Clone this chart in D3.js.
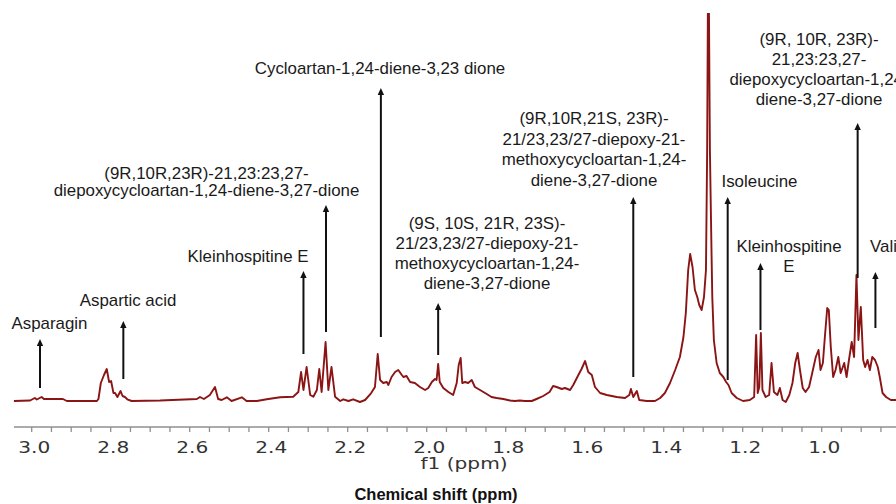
<!DOCTYPE html>
<html>
<head>
<meta charset="utf-8">
<script src="https://cdn.jsdelivr.net/npm/d3@7/dist/d3.min.js"></script>
<style>
  html, body { margin: 0; padding: 0; background: #fff; }
  svg { display: block; }
</style>
</head>
<body>
<svg id="chart" width="896" height="504"></svg>
<script>
// ---------------- DATA ----------------
// Chemical shift (ppm) and intensity (arbitrary units)
const shiftPpm = [
  3.045, 3.004, 2.997, 2.992, 2.987, 2.975, 2.969, 2.954, 2.921, 2.911, 2.835, 2.831, 2.825, 2.817, 2.810,
  2.804, 2.799, 2.793, 2.789, 2.783, 2.775, 2.770, 2.764, 2.758, 2.747, 2.675, 2.582, 2.574, 2.564, 2.549,
  2.536, 2.528, 2.519, 2.506, 2.494, 2.468, 2.456, 2.430, 2.405, 2.371, 2.338, 2.325, 2.318, 2.312, 2.304,
  2.295, 2.287, 2.278, 2.272, 2.266, 2.256, 2.249, 2.241, 2.232, 2.219, 2.211, 2.198, 2.186, 2.169, 2.156,
  2.141, 2.131, 2.124, 2.118, 2.110, 2.101, 2.097, 2.089, 2.080, 2.072, 2.063, 2.059, 2.051, 2.042, 2.030,
  2.017, 2.004, 1.996, 1.987, 1.979, 1.975, 1.971, 1.967, 1.958, 1.945, 1.933, 1.924, 1.919, 1.914, 1.910,
  1.903, 1.895, 1.886, 1.878, 1.865, 1.848, 1.836, 1.823, 1.806, 1.789, 1.777, 1.764, 1.752, 1.734, 1.722,
  1.705, 1.689, 1.680, 1.671, 1.658, 1.650, 1.637, 1.629, 1.616, 1.608, 1.599, 1.591, 1.582, 1.574, 1.561,
  1.544, 1.519, 1.498, 1.487, 1.483, 1.477, 1.468, 1.462, 1.443, 1.422, 1.409, 1.397, 1.384, 1.371, 1.359,
  1.350, 1.344, 1.338, 1.333, 1.327, 1.321, 1.315, 1.310, 1.304, 1.298, 1.293, 1.290, 1.287, 1.283, 1.279,
  1.277, 1.273, 1.266, 1.258, 1.249, 1.242, 1.236, 1.228, 1.215, 1.199, 1.182, 1.171, 1.166, 1.162, 1.158,
  1.154, 1.150, 1.142, 1.133, 1.127, 1.121, 1.112, 1.106, 1.099, 1.091, 1.082, 1.074, 1.067, 1.061, 1.055,
  1.048, 1.041, 1.032, 1.024, 1.015, 1.008, 1.003, 0.997, 0.992, 0.986, 0.982, 0.977, 0.971, 0.965, 0.958,
  0.952, 0.943, 0.937, 0.931, 0.924, 0.918, 0.912, 0.907, 0.901, 0.895, 0.890, 0.884, 0.878, 0.872, 0.865,
  0.858, 0.853, 0.846, 0.837, 0.825, 0.812
];
const intensity = [
  0, 0.5, 2, 3, 1.5, 4, 2, 2, 2, 0, 0, 2, 18, 26, 32,
  19, 20, 8, 8, 4, 10, 5, 4, 1.7, 0, 0.5, 2, 4, 2, 6,
  14, 2, 1, 3.7, 0, 3.7, 0, 0, 1.7, 3.7, 4.3, 9, 29, 11, 34,
  6, 4.3, 11, 32, 9, 59, 11, 34, 4.3, 0, 1.7, 0, 1.7, -1, 1,
  7.7, 14, 47, 21, 18, 19, 16, 24, 29, 31, 26, 24, 25, 19, 18,
  14, 11, 13, 19, 22, 21, 37, 19, 13, 9, 6, 18, 36, 43, 18,
  19, 18, 21, 14, 11, 7, 4, 3, 2, 0.5, 0, 0.5, 0, 0, 2,
  5, 9, 15, 14, 12, 13, 11, 16, 26, 32, 40, 29, 26, 14, 8,
  6, 4, 3, 6, 12, 4, 10, 1, 0, 0, 3, 8, 18, 31, 44,
  64, 88, 131, 147, 134, 111, 104, 96, 91, 104, 131, 250, 480, 250, 150,
  104, 61, 38, 28, 24, 19, 16, 8, 3, 0, 1, 4, 66, 8, 14,
  68, 11, 4, 6, 38, 9, 6, 13, 1, -1, 6, 18, 38, 48, 31,
  13, 9, 14, 28, 44, 51, 31, 38, 64, 93, 91, 54, 24, 31, 44,
  28, 38, 24, 41, 59, 44, 126, 61, 94, 41, 34, 41, 31, 44, 41,
  34, 24, 8, 4, 1, 1
];

// Axis ticks
const tickPpm = [3.0, 2.8, 2.6, 2.4, 2.2, 2.0, 1.8, 1.6, 1.4, 1.2, 1.0];
const tickLabels = ["3.0", "2.8", "2.6", "2.4", "2.2", "2.0", "1.8", "1.6", "1.4", "1.2", "1.0"];

// Annotations: compound names, the shift their arrow points at, arrow top/bottom in intensity units
const annoLines = [
  ["Asparagin"],
  ["Aspartic acid"],
  ["Kleinhospitine E"],
  ["(9R,10R,23R)-21,23:23,27-", "diepoxycycloartan-1,24-diene-3,27-dione"],
  ["Cycloartan-1,24-diene-3,23 dione"],
  ["(9S, 10S, 21R, 23S)-", "21/23,23/27-diepoxy-21-", "methoxycycloartan-1,24-", "diene-3,27-dione"],
  ["(9R,10R,21S, 23R)-", "21/23,23/27-diepoxy-21-", "methoxycycloartan-1,24-", "diene-3,27-dione"],
  ["Isoleucine"],
  ["Kleinhospitine", "E"],
  ["(9R, 10R, 23R)-", "21,23:23,27-", "diepoxycycloartan-1,24-", "diene-3,27-dione"],
  ["Valine"]
];
const annoPpm    = [2.979, 2.768, 2.312, 2.255, 2.116, 1.971, 1.477, 1.238, 1.155, 0.909, 0.864];
const annoTop    = [62, 80, 130, 196, 313, 98, 204, 204, 138, 278, 129];
const annoBottom = [13, 22, 47, 69, 64, 46, 24, 21, 71, 123, 73];

// ---------------- LAYOUT ----------------
const W = 896, H = 504;
const svg = d3.select("#chart");

const x = d3.scaleLinear().domain([3.0, 1.0]).range([31.7, 821.7]);
const y = d3.scaleLinear().domain([0, 390]).range([401, 11]);

// label placement (pixels): anchor x, first line centre y, line gap, text-anchor
const labelPos = [
  [49.5, 323, 20, "middle"],
  [128, 300, 20, "middle"],
  [248, 256.7, 20, "middle"],
  [206.5, 173, 17.5, "middle"],
  [380, 68, 20, "middle"],
  [487, 223, 20, "middle"],
  [594, 118.5, 20.5, "middle"],
  [721.5, 181.7, 20, "start"],
  [789, 246.7, 20, "middle"],
  [819, 39.7, 20, "middle"],
  [870, 246.7, 20, "start"]
];

// ---- Axis ----
const axisY = 427;
const minorTicks = d3.range(0.85, 3.0001, 0.05).map(v => +v.toFixed(2));
const axisG = svg.append("g").attr("transform", `translate(0,${axisY})`);
axisG.append("line")
  .attr("x1", x(3.045)).attr("x2", W)
  .attr("y1", 0).attr("y2", 0)
  .attr("stroke", "#8f8f8f").attr("stroke-width", 1.5);
axisG.selectAll("line.tick").data(minorTicks).join("line")
  .attr("class", "tick")
  .attr("x1", d => x(d)).attr("x2", d => x(d))
  .attr("y1", 0).attr("y2", 5)
  .attr("stroke", "#8f8f8f").attr("stroke-width", 1.3);
axisG.selectAll("g.tl").data(tickPpm).join("g")
  .attr("class", "tl")
  .attr("transform", d => `translate(${x(d) + 2.5},15) scale(1.3,1)`)
  .append("text")
  .attr("text-anchor", "middle")
  .attr("dy", "0.71em")
  .attr("font-family", "'DejaVu Sans', Verdana, sans-serif")
  .attr("font-size", 15.5)
  .attr("fill", "#333")
  .text((d, i) => tickLabels[i]);

svg.append("g").attr("transform", `translate(464,464) scale(1.3,1)`)
  .append("text")
  .attr("text-anchor", "middle").attr("dy", "0.35em")
  .attr("font-family", "'DejaVu Sans', Verdana, sans-serif")
  .attr("font-size", 15.5).attr("fill", "#333")
  .text("f1 (ppm)");

svg.append("text")
  .attr("x", 436).attr("y", 494).attr("dy", "0.35em")
  .attr("text-anchor", "middle")
  .attr("font-family", "'Liberation Sans', Arial, sans-serif")
  .attr("font-weight", "bold").attr("font-size", 16.5).attr("fill", "#111")
  .text("Chemical shift (ppm)");

// ---- Spectrum ----
svg.append("clipPath").attr("id", "clip")
  .append("rect").attr("x", 0).attr("y", 13).attr("width", W).attr("height", 420);

const pts = shiftPpm.map((p, i) => [p, intensity[i]]);
const line = d3.line().x(d => x(d[0])).y(d => y(d[1])).curve(d3.curveLinear);
svg.append("path")
  .attr("clip-path", "url(#clip)")
  .attr("d", line(pts))
  .attr("fill", "none")
  .attr("stroke", "#8b1414")
  .attr("stroke-width", 1.9)
  .attr("stroke-linejoin", "round");

// ---- Arrows ----
const arrowG = svg.append("g");
annoPpm.forEach((p, i) => {
  const ax = x(p), yt = y(annoTop[i]), yb = y(annoBottom[i]);
  arrowG.append("line")
    .attr("x1", ax).attr("x2", ax).attr("y1", yt + 4).attr("y2", yb)
    .attr("stroke", "#111").attr("stroke-width", 2);
  arrowG.append("path")
    .attr("d", `M${ax},${yt} L${ax - 3.2},${yt + 7} L${ax + 3.2},${yt + 7} Z`)
    .attr("fill", "#111");
});

// ---- Labels ----
const labG = svg.append("g");
annoLines.forEach((lines, i) => {
  const [lx, ly, gap, anchor] = labelPos[i];
  const g = labG.append("g").attr("transform", `translate(${lx},${ly}) scale(1.055,1)`);
  lines.forEach((t, j) => {
    g.append("text")
      .attr("x", 0).attr("y", j * gap).attr("dy", "0.35em")
      .attr("text-anchor", anchor)
      .attr("font-family", "'Liberation Sans', Arial, sans-serif")
      .attr("font-size", 16).attr("fill", "#1a1a1a")
      .text(t);
  });
});
</script>
</body>
</html>
